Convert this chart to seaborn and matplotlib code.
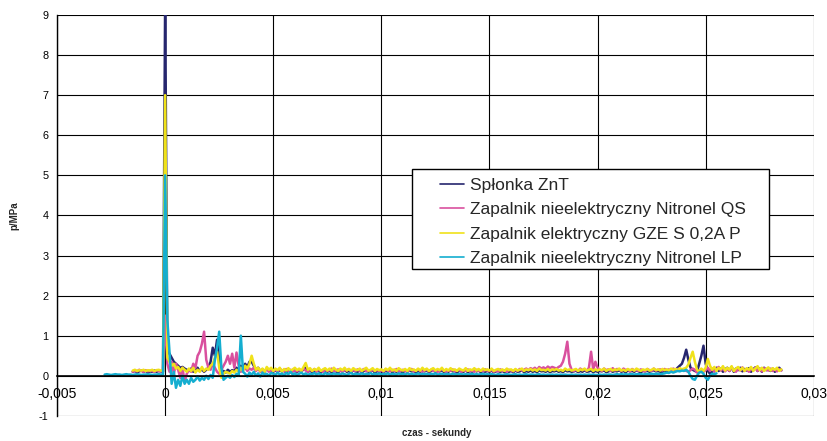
import numpy as np
import pandas as pd
import matplotlib
matplotlib.use("Agg")
import matplotlib.pyplot as plt
from matplotlib.lines import Line2D
from matplotlib.patches import Rectangle
import seaborn as sns

# sampling: one reading every 0.1 ms
dt = 0.0001

series_names = [
    "Spłonka ZnT",
    "Zapalnik nieelektryczny Nitronel QS",
    "Zapalnik elektryczny GZE S 0,2A P",
    "Zapalnik nieelektryczny Nitronel LP",
]
series_colors = ["#26266e", "#d9509e", "#f0e21a", "#14aed0"]
series_start = [-0.0015, -0.0015, -0.0015, -0.0028]

p_znt = [
    0.1, 0.12, 0.09, 0.11, 0.13, 0.1, 0.12, 0.09, 0.11, 0.1, 0.13, 0.1, 0.12, 0.11, 0.1,
    9.5, 0.6, 0.55, 0.45, 0.35, 0.3, 0.25, 0.2, 0.22, 0.18,
    0.15, 0.12, 0.18, 0.1, 0.14, 0.2, 0.12, 0.16, 0.1, 0.15,
    0.2, 0.35, 0.7, 0.5, 0.9, 0.4, 0.1, 0.12, 0.08, 0.15,
    0.1, 0.14, 0.12, 0.2, 0.15, 0.25, 0.18, 0.3, 0.22, 0.35,
    0.35, 0.25, 0.15, 0.2, 0.12, 0.16, 0.1, 0.18, 0.13, 0.15,
    0.1, 0.14, 0.09, 0.15, 0.11, 0.13, 0.08, 0.14, 0.1, 0.12,
    0.13, 0.09, 0.15, 0.11, 0.16, 0.2, 0.1, 0.13, 0.09, 0.12,
    0.11, 0.14, 0.08, 0.12, 0.15, 0.1, 0.13, 0.09, 0.14, 0.11,
    0.09, 0.13, 0.11, 0.15, 0.1, 0.12, 0.08, 0.14, 0.11, 0.1,
    0.13, 0.09, 0.12, 0.15, 0.1, 0.11, 0.14, 0.08, 0.12, 0.1,
    0.12, 0.08, 0.13, 0.1, 0.15, 0.09, 0.12, 0.1, 0.14, 0.11,
    0.09, 0.13, 0.1, 0.14, 0.11, 0.12, 0.08, 0.13, 0.1, 0.15,
    0.11, 0.14, 0.09, 0.12, 0.15, 0.1, 0.13, 0.11, 0.14, 0.09,
    0.13, 0.1, 0.14, 0.11, 0.12, 0.08, 0.13, 0.11, 0.1, 0.14,
    0.09, 0.12, 0.1, 0.14, 0.11, 0.13, 0.09, 0.12, 0.1, 0.12,
    0.1, 0.13, 0.09, 0.11, 0.12, 0.1, 0.12, 0.09, 0.13, 0.1,
    0.12, 0.09, 0.13, 0.1, 0.11, 0.14, 0.09, 0.12, 0.1, 0.13,
    0.1, 0.12, 0.09, 0.14, 0.11, 0.12, 0.1, 0.13, 0.09, 0.12,
    0.11, 0.13, 0.1, 0.12, 0.09, 0.14, 0.11, 0.12, 0.1, 0.11,
    0.13, 0.09, 0.12, 0.1, 0.14, 0.1, 0.11, 0.13, 0.09, 0.12,
    0.1, 0.12, 0.11, 0.14, 0.09, 0.11, 0.13, 0.1, 0.12, 0.11,
    0.14, 0.1, 0.12, 0.09, 0.13, 0.11, 0.12, 0.1, 0.14, 0.11,
    0.09, 0.12, 0.11, 0.13, 0.1, 0.12, 0.14, 0.11, 0.12, 0.1,
    0.1, 0.13, 0.11, 0.14, 0.12, 0.15, 0.13, 0.2, 0.25, 0.3,
    0.45, 0.65, 0.4, 0.2, 0.15, 0.12, 0.1, 0.3, 0.5, 0.75,
    0.3, 0.12, 0.05, 0.1, 0.15, 0.2, 0.12, 0.18, 0.1, 0.16,
    0.2, 0.12, 0.22, 0.1, 0.18, 0.14, 0.2, 0.11, 0.17, 0.13,
    0.19, 0.1, 0.16, 0.21, 0.12, 0.18, 0.1, 0.2, 0.14, 0.17,
    0.12, 0.18, 0.1, 0.16, 0.2, 0.14,
]

p_qs = [
    0.1, 0.13, 0.11, 0.15, 0.12, 0.1, 0.14, 0.11, 0.13, 0.12, 0.1, 0.14, 0.12, 0.11, 0.13,
    1.5, 0.3, 0.1, 0.35, 0.05, 0.3, 0.15, -0.05, 0.2, -0.15,
    0.05, 0.15, 0.1, 0.3, 0.2, 0.5, 0.6, 0.8, 1.1, 0.4,
    0.2, 0.15, 0.3, 0.2, 0.1, 0.05, 0.15, 0.25, 0.35, 0.5,
    0.3, 0.55, 0.2, 0.58, 0.25, 0.1, 0.15, 0.2, 0.12, 0.18,
    0.15, 0.2, 0.12, 0.18, 0.1, 0.15, 0.12, 0.17, 0.1, 0.14,
    0.12, 0.16, 0.1, 0.18, 0.13, 0.11, 0.17, 0.12, 0.15, 0.1,
    0.14, 0.11, 0.16, 0.12, 0.18, 0.13, 0.1, 0.15, 0.12, 0.17,
    0.11, 0.15, 0.13, 0.1, 0.16, 0.12, 0.14, 0.18, 0.11, 0.13,
    0.16, 0.12, 0.1, 0.15, 0.13, 0.17, 0.11, 0.14, 0.12, 0.16,
    0.12, 0.14, 0.17, 0.11, 0.13, 0.1, 0.16, 0.12, 0.15, 0.11,
    0.14, 0.1, 0.16, 0.13, 0.11, 0.15, 0.12, 0.17, 0.1, 0.13,
    0.15, 0.12, 0.1, 0.14, 0.17, 0.11, 0.13, 0.16, 0.12, 0.1,
    0.13, 0.16, 0.11, 0.15, 0.12, 0.14, 0.1, 0.13, 0.17, 0.12,
    0.1, 0.14, 0.12, 0.16, 0.11, 0.13, 0.15, 0.1, 0.14, 0.12,
    0.16, 0.11, 0.13, 0.1, 0.15, 0.12, 0.14, 0.11, 0.16, 0.13,
    0.12, 0.15, 0.1, 0.13, 0.11, 0.16, 0.12, 0.14, 0.1, 0.15,
    0.13, 0.11, 0.15, 0.12, 0.17, 0.13, 0.15, 0.18, 0.14, 0.19,
    0.16, 0.2, 0.15, 0.22, 0.18, 0.21, 0.17, 0.23, 0.19, 0.22,
    0.2, 0.18, 0.22, 0.25, 0.35, 0.55, 0.85, 0.3, 0.15, 0.12,
    0.15, 0.12, 0.18, 0.14, 0.16, 0.12, 0.2, 0.6, 0.15, 0.35,
    0.2, 0.15, 0.12, 0.18, 0.14, 0.16, 0.12, 0.19, 0.13, 0.17,
    0.15, 0.12, 0.18, 0.14, 0.16, 0.11, 0.17, 0.13, 0.15, 0.12,
    0.16, 0.13, 0.11, 0.17, 0.14, 0.12, 0.18, 0.13, 0.15, 0.16,
    0.13, 0.17, 0.14, 0.16, 0.12, 0.18, 0.15, 0.17, 0.14, 0.16,
    0.15, 0.12, 0.1, 0.14, 0.18, 0.15, 0.08, 0.12, 0.16, 0.1,
    0.14, 0.2, 0.12, 0.18, 0.1, 0.16, 0.22, 0.13, 0.19, 0.11,
    0.17, 0.12, 0.2, 0.14, 0.1, 0.18, 0.13, 0.21, 0.12, 0.16,
    0.1, 0.18, 0.14, 0.2, 0.12, 0.17, 0.11, 0.19, 0.15, 0.13,
    0.18, 0.12, 0.16, 0.11, 0.17, 0.13,
]

p_gze = [
    0.13, 0.15, 0.12, 0.14, 0.13, 0.15, 0.12, 0.14, 0.13, 0.15, 0.12, 0.14, 0.15, 0.13, 0.12,
    7.0, 0.45, 0.35, 0.25, 0.3, 0.18, 0.22, 0.12, 0.2, 0.15,
    0.1, 0.18, 0.12, 0.2, 0.08, 0.15, 0.1, 0.22, 0.12, 0.18,
    0.15, 0.25, 0.3, 0.45, 0.6, 0.2, -0.05, 0.05, 0.1, 0.08,
    0.05, 0.12, 0.08, 0.15, 0.1, 0.2, 0.12, 0.25, 0.18, 0.3,
    0.5, 0.3, 0.15, 0.2, 0.12, 0.18, 0.1, 0.22, 0.15, 0.2,
    0.12, 0.18, 0.14, 0.2, 0.1, 0.17, 0.13, 0.19, 0.12, 0.16,
    0.2, 0.14, 0.18, 0.12, 0.22, 0.32, 0.15, 0.19, 0.12, 0.17,
    0.14, 0.2, 0.12, 0.16, 0.19, 0.13, 0.18, 0.12, 0.2, 0.15,
    0.12, 0.18, 0.14, 0.2, 0.13, 0.17, 0.12, 0.19, 0.15, 0.14,
    0.18, 0.12, 0.16, 0.2, 0.13, 0.15, 0.19, 0.12, 0.17, 0.14,
    0.16, 0.12, 0.18, 0.14, 0.2, 0.13, 0.16, 0.12, 0.19, 0.15,
    0.13, 0.17, 0.12, 0.19, 0.14, 0.16, 0.12, 0.18, 0.13, 0.2,
    0.14, 0.18, 0.12, 0.16, 0.19, 0.13, 0.17, 0.14, 0.2, 0.12,
    0.17, 0.13, 0.19, 0.14, 0.16, 0.12, 0.18, 0.15, 0.13, 0.19,
    0.12, 0.16, 0.14, 0.19, 0.13, 0.17, 0.12, 0.18, 0.14, 0.16,
    0.13, 0.18, 0.12, 0.15, 0.17, 0.13, 0.16, 0.12, 0.18, 0.14,
    0.16, 0.12, 0.17, 0.13, 0.15, 0.18, 0.12, 0.16, 0.14, 0.17,
    0.13, 0.16, 0.12, 0.18, 0.14, 0.15, 0.13, 0.17, 0.12, 0.16,
    0.14, 0.17, 0.13, 0.15, 0.12, 0.18, 0.14, 0.16, 0.13, 0.15,
    0.17, 0.12, 0.16, 0.14, 0.18, 0.13, 0.15, 0.17, 0.12, 0.16,
    0.13, 0.16, 0.14, 0.18, 0.12, 0.15, 0.17, 0.13, 0.16, 0.14,
    0.18, 0.13, 0.15, 0.12, 0.17, 0.14, 0.16, 0.13, 0.18, 0.15,
    0.12, 0.16, 0.14, 0.17, 0.13, 0.15, 0.18, 0.14, 0.16, 0.13,
    0.17, 0.14, 0.16, 0.13, 0.18, 0.15, 0.17, 0.14, 0.19, 0.16,
    0.18, 0.2, 0.28, 0.45, 0.6, 0.35, 0.15, 0.1, 0.18, 0.12,
    0.2, 0.42, 0.25, 0.15, 0.22, 0.12, 0.2, 0.16, 0.24, 0.13,
    0.2, 0.15, 0.24, 0.12, 0.18, 0.22, 0.14, 0.2, 0.12, 0.19,
    0.15, 0.22, 0.12, 0.18, 0.24, 0.14, 0.2, 0.12, 0.17, 0.21,
    0.13, 0.19, 0.15, 0.2, 0.12, 0.16,
]

p_lp = [
    0.03, 0.04, 0.03, 0.02, 0.03, 0.04, 0.03, 0.03, 0.02, 0.03, 0.04, 0.03, 0.03, 0.02,
    0.03, 0.04, 0.03, 0.02, 0.03, 0.03, 0.04, 0.03, 0.02, 0.03, 0.03, 0.04, 0.03, 0.03,
    5.0, 1.4, 0.6, -0.2, 0.1, -0.3, -0.1, -0.25, 0.0, -0.2,
    -0.1, -0.2, -0.05, -0.15, -0.1, -0.02, -0.12, -0.05, -0.1, 0.0,
    -0.08, 0.02, -0.05, 0.4, 0.7, 1.1, 0.2, -0.1, -0.05, 0.0,
    -0.05, 0.02, -0.03, 0.05, 0.0, 1.0, 0.1, 0.05, -0.02, 0.08,
    0.02, 0.1, 0.0, 0.06, -0.02, 0.08, 0.03, 0.05, 0.0, 0.07,
    0.05, 0.02, 0.08, 0.03, 0.06, 0.01, 0.07, 0.04, 0.1, 0.03,
    0.06, 0.02, 0.05, 0.08, 0.03, 0.06, 0.02, 0.05, 0.04, 0.07,
    0.03, 0.06, 0.04, 0.02, 0.07, 0.04, 0.05, 0.03, 0.06, 0.04,
    0.05, 0.03, 0.06, 0.04, 0.02, 0.05, 0.07, 0.03, 0.05, 0.04,
    0.04, 0.06, 0.03, 0.05, 0.04, 0.07, 0.03, 0.05, 0.04, 0.06,
    0.03, 0.05, 0.04, 0.06, 0.03, 0.05, 0.04, 0.03, 0.06, 0.04,
    0.05, 0.03, 0.06, 0.04, 0.05, 0.03, 0.04, 0.06, 0.03, 0.05,
    0.04, 0.05, 0.03, 0.05, 0.04, 0.06, 0.03, 0.04, 0.05, 0.03,
    0.05, 0.04, 0.03, 0.05, 0.04, 0.03, 0.05, 0.04, 0.03, 0.04,
    0.03, 0.04, 0.05, 0.03, 0.04, 0.03, 0.04, 0.05, 0.03, 0.04,
    0.03, 0.04, 0.03, 0.02, 0.04, 0.03, 0.02, 0.03, 0.04, 0.03,
    0.02, 0.03, 0.04, 0.02, 0.03, 0.02, 0.03, 0.04, 0.02, 0.03,
    0.03, 0.02, 0.03, 0.04, 0.02, 0.03, 0.02, 0.03, 0.02, 0.03,
    0.02, 0.03, 0.02, 0.03, 0.02, 0.03, 0.02, 0.02, 0.03, 0.02,
    0.03, 0.01, 0.03, 0.02, 0.03, 0.02, 0.03, 0.02, 0.03, 0.02,
    0.02, 0.03, 0.02, 0.03, 0.02, 0.03, 0.03, 0.02, 0.03, 0.04,
    0.03, 0.04, 0.03, 0.04, 0.03, 0.04, 0.04, 0.03, 0.04, 0.04,
    0.04, 0.03, 0.04, 0.05, 0.04, 0.05, 0.04, 0.05, 0.05, 0.04,
    0.05, 0.06, 0.08, 0.07, 0.1, 0.08, 0.1, 0.12, 0.11, 0.13,
    0.12, 0.15, 0.1, 0.0, -0.08, -0.1, 0.0, 0.08, 0.1, 0.05,
    -0.05, -0.1, 0.0, 0.05, 0.04, 0.06,
]

x_ticks = [-0.005, 0, 0.005, 0.01, 0.015, 0.02, 0.025, 0.03]
x_tick_labels = ["-0,005", "0", "0,005", "0,01", "0,015", "0,02", "0,025", "0,03"]
y_ticks = [-1, 0, 1, 2, 3, 4, 5, 6, 7, 8, 9]

frames = []
for name, start, vals in zip(series_names, series_start,
                             [p_znt, p_qs, p_gze, p_lp]):
    t = start + dt * np.arange(len(vals))
    frames.append(pd.DataFrame({"czas": t, "p": vals, "seria": name}))
df = pd.concat(frames, ignore_index=True)

sns.set_style("white")
plt.rcParams["font.family"] = ["Liberation Sans", "DejaVu Sans"]

fig, ax = plt.subplots(figsize=(8.27, 4.41), dpi=100)
fig.subplots_adjust(left=0.069, right=0.984, top=0.966, bottom=0.057)

sns.lineplot(data=df, x="czas", y="p", hue="seria", hue_order=series_names,
             palette=series_colors, estimator=None, sort=False,
             linewidth=1.8, legend=False, ax=ax)

ax.set_xlim(-0.005, 0.03)
ax.set_ylim(-1, 9)
ax.set_xticks(x_ticks)
ax.set_xticklabels(x_tick_labels, fontsize=7.8)
ax.set_yticks(y_ticks)
ax.set_yticklabels([str(v) for v in y_ticks], fontsize=7.8)
ax.grid(True, color="black", linewidth=0.8)
ax.set_axisbelow(True)

# excel style: category axis crosses at 0
ax.spines["bottom"].set_position(("data", 0))
ax.spines["bottom"].set_linewidth(1.2)
ax.spines["left"].set_linewidth(1.0)
ax.spines["top"].set_visible(False)
ax.spines["right"].set_visible(False)
for s in ["bottom", "left"]:
    ax.spines[s].set_color("black")
ax.tick_params(axis="both", direction="out", length=3, width=0.8, colors="black")
ax.tick_params(axis="x", pad=5)
ax.tick_params(axis="y", pad=3)

ax.set_xlabel("")
ax.set_ylabel("")
fig.text(0.528, 0.006, "czas - sekundy", fontsize=7, fontweight="bold",
         ha="center", va="bottom")
fig.text(0.018, 0.511, "p/MPa", fontsize=7, fontweight="bold",
         ha="center", va="center", rotation=90)

handles = [Line2D([0], [0], color=c, linewidth=1.2) for c in series_colors]
box = Rectangle((0.469, 0.367), 0.472, 0.249, transform=ax.transAxes,
                facecolor="white", edgecolor="black", linewidth=1.0, zorder=5)
ax.add_patch(box)
leg = ax.legend(handles, series_names, loc="upper left",
                bbox_to_anchor=(0.497, 0.611), frameon=False, fontsize=12.5,
                handlelength=1.4, handletextpad=0.3, labelspacing=0.53,
                borderaxespad=0)
leg.set_zorder(6)

fig.savefig("out.png", dpi=100)
